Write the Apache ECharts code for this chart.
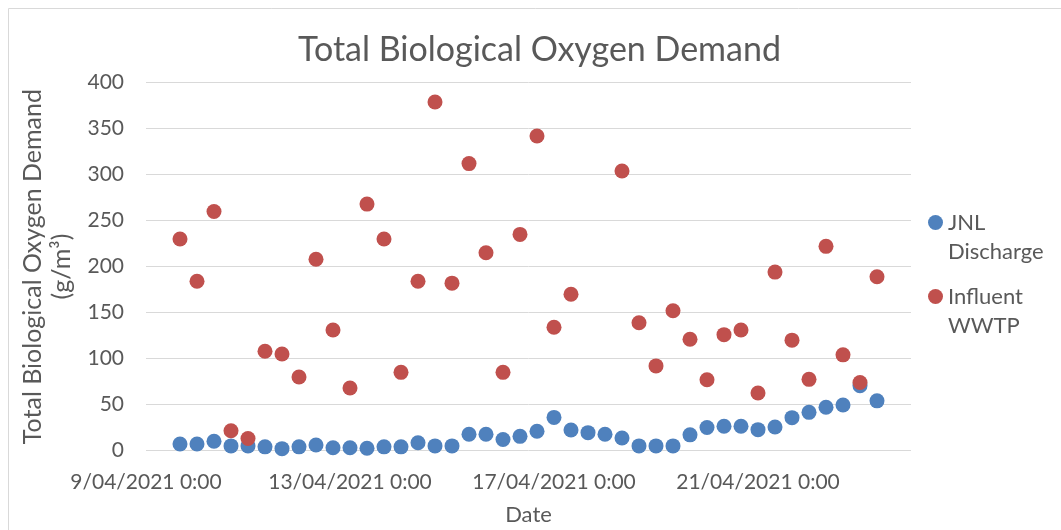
<!DOCTYPE html>
<html>
<head>
<meta charset="utf-8">
<script src="https://cdn.jsdelivr.net/npm/echarts@6/dist/echarts.min.js"></script>
<style>
html,body{margin:0;padding:0;background:#fff}
#chart{width:1061px;height:530px}
</style>
</head>
<body>
<div id="chart"></div>
<script>
// sampling times, one reading every 8 hours
var sampleTimes = [
  '2021-04-09 16:00',
  '2021-04-10 00:00','2021-04-10 08:00','2021-04-10 16:00',
  '2021-04-11 00:00','2021-04-11 08:00','2021-04-11 16:00',
  '2021-04-12 00:00','2021-04-12 08:00','2021-04-12 16:00',
  '2021-04-13 00:00','2021-04-13 08:00','2021-04-13 16:00',
  '2021-04-14 00:00','2021-04-14 08:00','2021-04-14 16:00',
  '2021-04-15 00:00','2021-04-15 08:00','2021-04-15 16:00',
  '2021-04-16 00:00','2021-04-16 08:00','2021-04-16 16:00',
  '2021-04-17 00:00','2021-04-17 08:00','2021-04-17 16:00',
  '2021-04-18 00:00','2021-04-18 08:00','2021-04-18 16:00',
  '2021-04-19 00:00','2021-04-19 08:00','2021-04-19 16:00',
  '2021-04-20 00:00','2021-04-20 08:00','2021-04-20 16:00',
  '2021-04-21 00:00','2021-04-21 08:00','2021-04-21 16:00',
  '2021-04-22 00:00','2021-04-22 08:00','2021-04-22 16:00',
  '2021-04-23 00:00','2021-04-23 08:00'
];
// g/m3
var jnlDischarge = [
  7, 7, 10, 5, 5, 4, 2, 4, 6, 3, 3, 2.4, 4,
  4, 8.5, 5, 5, 17.6, 17.6, 12, 15.4, 21, 36, 22.3, 19.4, 17.6, 13.6, 5, 5,
  5, 17, 25, 26.3, 26.3, 22.7, 25.6, 35.7, 41.5, 47, 49.5, 70.5, 54
];
var influentWwtp = [
  230, 184, 260, 21.5, 13, 108, 105, 80, 208, 131, 68, 268, 230,
  85, 184, 379, 182, 312, 215, 85, 235, 342, 134, 170, null, null, 304, 139, 92,
  152, 121, 77, 126, 131, 62.5, 194, 120, 77.4, 222, 104, 74, 189
];
var axisStart = '2021-04-09 00:00';
var axisEnd = '2021-04-24 00:00';
var tickStepDays = 4;

function parseUTC(s) {
  var p = s.split(/[- :]/);
  return Date.UTC(+p[0], +p[1] - 1, +p[2], +p[3], +p[4]);
}
var startMs = parseUTC(axisStart);
function toDays(s) {
  return (parseUTC(s) - startMs) / 86400000;
}
function pad(n) { return n < 10 ? '0' + n : '' + n; }
function dateLabel(v) {
  var d = new Date(startMs + v * 86400000);
  return d.getUTCDate() + '/' + pad(d.getUTCMonth() + 1) + '/' + d.getUTCFullYear() +
    ' ' + d.getUTCHours() + ':' + pad(d.getUTCMinutes());
}
function pairs(values) {
  var out = [];
  for (var i = 0; i < sampleTimes.length; i++) {
    if (values[i] != null) out.push([toDays(sampleTimes[i]), values[i]]);
  }
  return out;
}

var font = 'Lato, "Open Sans", sans-serif';
var grey = '#595959';
// legend text: first line sits level with the marker
var legendText = { fontFamily: font, fontSize: 22, color: grey, lineHeight: 29 };

var chart = echarts.init(document.getElementById('chart'));
chart.setOption({
  animation: false,
  textStyle: { fontFamily: font },
  graphic: [{
    type: 'rect',
    shape: { x: 8.5, y: 8.5, width: 1200, height: 700 },
    style: { fill: null, stroke: '#D9D9D9', lineWidth: 1 }
  }],
  title: {
    text: 'Total Biological Oxygen Demand',
    left: 298,
    top: 33,
    padding: 0,
    textStyle: { fontFamily: font, fontSize: 34, fontWeight: 'normal', color: grey }
  },
  legend: [{
    data: ['JNL Discharge'],
    orient: 'vertical',
    left: 928,
    top: 179,
    padding: 0,
    icon: 'circle',
    itemWidth: 15,
    itemHeight: 15,
    formatter: function () { return '\nJNL\nDischarge'; },
    textStyle: legendText
  }, {
    data: ['Influent WWTP'],
    orient: 'vertical',
    left: 928,
    top: 253,
    padding: 0,
    icon: 'circle',
    itemWidth: 15,
    itemHeight: 15,
    formatter: function () { return '\nInfluent\nWWTP'; },
    textStyle: legendText
  }],
  grid: { left: 146, right: 150, top: 82.7, bottom: 79.5, outerBoundsMode: 'none' },
  xAxis: {
    type: 'value',
    min: 0,
    max: toDays(axisEnd),
    interval: tickStepDays,
    name: 'Date',
    nameLocation: 'middle',
    nameGap: 53,
    nameTextStyle: { fontFamily: font, fontSize: 22, color: grey },
    axisLine: { show: false },
    axisTick: { show: false },
    splitLine: { show: false },
    axisLabel: { formatter: dateLabel, margin: 21, fontSize: 21, color: grey, fontFamily: font }
  },
  yAxis: {
    type: 'value',
    min: 0,
    max: 400,
    interval: 50,
    name: 'Total Biological Oxygen Demand\n(g/m³)',
    nameLocation: 'middle',
    nameGap: 70,
    nameTextStyle: { fontFamily: font, fontSize: 25, lineHeight: 29, color: grey },
    axisLine: { show: false },
    axisTick: { show: false },
    splitLine: { lineStyle: { color: '#D9D9D9', width: 1 } },
    axisLabel: { margin: 22, fontSize: 21, color: grey, fontFamily: font }
  },
  series: [{
    name: 'JNL Discharge',
    type: 'scatter',
    symbolSize: 15,
    itemStyle: { color: '#4F81BD', opacity: 1 },
    data: pairs(jnlDischarge)
  }, {
    name: 'Influent WWTP',
    type: 'scatter',
    symbolSize: 15,
    itemStyle: { color: '#C0504D', opacity: 1 },
    data: pairs(influentWwtp)
  }]
});
</script>
</body>
</html>
